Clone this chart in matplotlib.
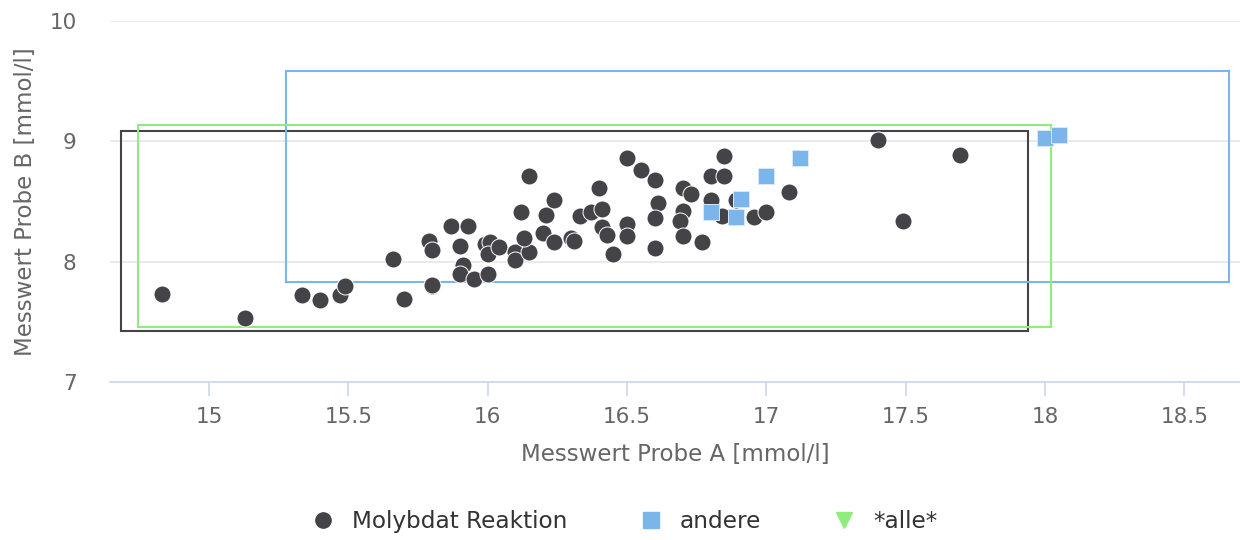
import matplotlib.pyplot as plt
from matplotlib.patches import Rectangle
from matplotlib.lines import Line2D

# Messwerte der Methode "Molybdat Reaktion" (Probe A, Probe B) in mmol/l
MOLY_A = [14.83, 15.13, 15.335, 15.40, 15.47, 15.49, 15.66, 15.70, 15.80, 15.79,
          15.80, 15.87, 15.93, 15.90, 15.99, 16.01, 16.00, 16.04, 15.91, 15.90,
          15.95, 16.00, 15.80, 16.10, 16.10, 16.15, 16.13, 16.15, 16.12, 16.21,
          16.24, 16.20, 16.24, 16.30, 16.31, 16.33, 16.37, 16.41, 16.40, 16.41,
          16.43, 16.45, 16.50, 16.50, 16.50, 16.55, 16.60, 16.61, 16.60, 16.60,
          16.70, 16.73, 16.70, 16.69, 16.70, 16.77, 16.80, 16.85, 16.85, 16.80,
          16.84, 16.89, 16.955, 17.00, 17.08, 17.40, 17.695, 17.49]
MOLY_B = [7.73, 7.53, 7.72, 7.68, 7.72, 7.80, 8.025, 7.69, 7.80, 8.17,
          8.10, 8.30, 8.30, 8.13, 8.15, 8.16, 8.06, 8.12, 7.97, 7.90,
          7.86, 7.90, 7.81, 8.08, 8.01, 8.08, 8.20, 8.71, 8.41, 8.39,
          8.51, 8.24, 8.16, 8.20, 8.175, 8.38, 8.41, 8.44, 8.61, 8.29,
          8.225, 8.06, 8.31, 8.21, 8.86, 8.76, 8.675, 8.49, 8.36, 8.11,
          8.61, 8.56, 8.42, 8.34, 8.21, 8.16, 8.71, 8.71, 8.875, 8.51,
          8.38, 8.51, 8.37, 8.41, 8.575, 9.01, 8.89, 8.34]

# Messwerte "andere"
ANDERE_A = [16.80, 16.91, 16.89, 17.00, 17.12, 18.00, 18.05]
ANDERE_B = [8.41, 8.52, 8.375, 8.71, 8.86, 9.03, 9.056]

# Bereiche je Gruppe: (A min, A max, B min, B max)
BEREICH_MOLY = [14.685, 17.94, 7.425, 9.09]
BEREICH_ANDERE = [15.275, 18.661, 7.827, 9.586]
BEREICH_ALLE = [14.745, 18.02, 7.458, 9.133]

X_TICKS = [15, 15.5, 16, 16.5, 17, 17.5, 18, 18.5]
Y_TICKS = [7, 8, 9, 10]

C_MOLY = '#434348'
C_ANDERE = '#7cb5ec'
C_ALLE = '#90ed7d'


def bereich(ax, b, farbe, z):
    ax.add_patch(Rectangle((b[0], b[2]), b[1] - b[0], b[3] - b[2],
                           fill=False, edgecolor=farbe, linewidth=1.5, zorder=z))


def main():
    fig = plt.figure(figsize=(12.4, 5.4), dpi=100)
    ax = fig.add_axes([110 / 1240, 158 / 540, 1130 / 1240, 361 / 540])

    bereich(ax, BEREICH_MOLY, C_MOLY, 2)
    bereich(ax, BEREICH_ANDERE, C_ANDERE, 2)
    bereich(ax, BEREICH_ALLE, C_ALLE, 2)

    ax.scatter(MOLY_A, MOLY_B, s=150, marker='o', color=C_MOLY,
               edgecolors='white', linewidths=0.7, zorder=3)
    ax.scatter(ANDERE_A, ANDERE_B, s=135, marker='s', color=C_ANDERE,
               edgecolors='#d6e8f9', linewidths=0.7, zorder=4)

    ax.set_xlim(14.645, 18.70)
    ax.set_ylim(7, 10)
    ax.set_xticks(X_TICKS)
    ax.set_xticklabels([f'{t:g}' for t in X_TICKS])
    ax.set_yticks(Y_TICKS)

    # Achsen im schlichten Stil
    for s in ['top', 'right', 'left']:
        ax.spines[s].set_visible(False)
    ax.spines['bottom'].set_color('#ccd6eb')
    ax.spines['bottom'].set_linewidth(1.2)
    ax.grid(axis='y', color='#e6e6e6', linewidth=1.2)
    ax.set_axisbelow(True)
    ax.tick_params(axis='x', colors='#ccd6eb', length=10, width=1.2,
                   pad=8, labelsize=15.5, labelcolor='#666666')
    ax.tick_params(axis='y', length=0, pad=24, labelsize=15.5,
                   labelcolor='#666666')

    ax.set_xlabel('Messwert Probe A [mmol/l]', fontsize=16.5, color='#666666')
    ax.set_ylabel('Messwert Probe B [mmol/l]', fontsize=16.5, color='#666666')
    ax.xaxis.set_label_coords(0.5, -0.20)
    ax.xaxis.label.set_va('center')
    ax.yaxis.set_label_coords(-0.075, 0.5)
    ax.yaxis.label.set_va('center')

    handles = [
        Line2D([], [], linestyle='none', marker='o', markersize=11, color=C_MOLY),
        Line2D([], [], linestyle='none', marker='s', markersize=11, color=C_ANDERE),
        Line2D([], [], linestyle='none', marker='v', markersize=12, color=C_ALLE),
    ]
    fig.legend(handles, ['Molybdat Reaktion', 'andere', '*alle*'],
               loc='center', bbox_to_anchor=(0.5035, 0.034), ncol=3,
               frameon=False, fontsize=16.7, labelcolor='#333333',
               handlelength=1.0, handletextpad=0.75, columnspacing=3.1)

    fig.savefig('out.png', dpi=100)


if __name__ == '__main__':
    main()
